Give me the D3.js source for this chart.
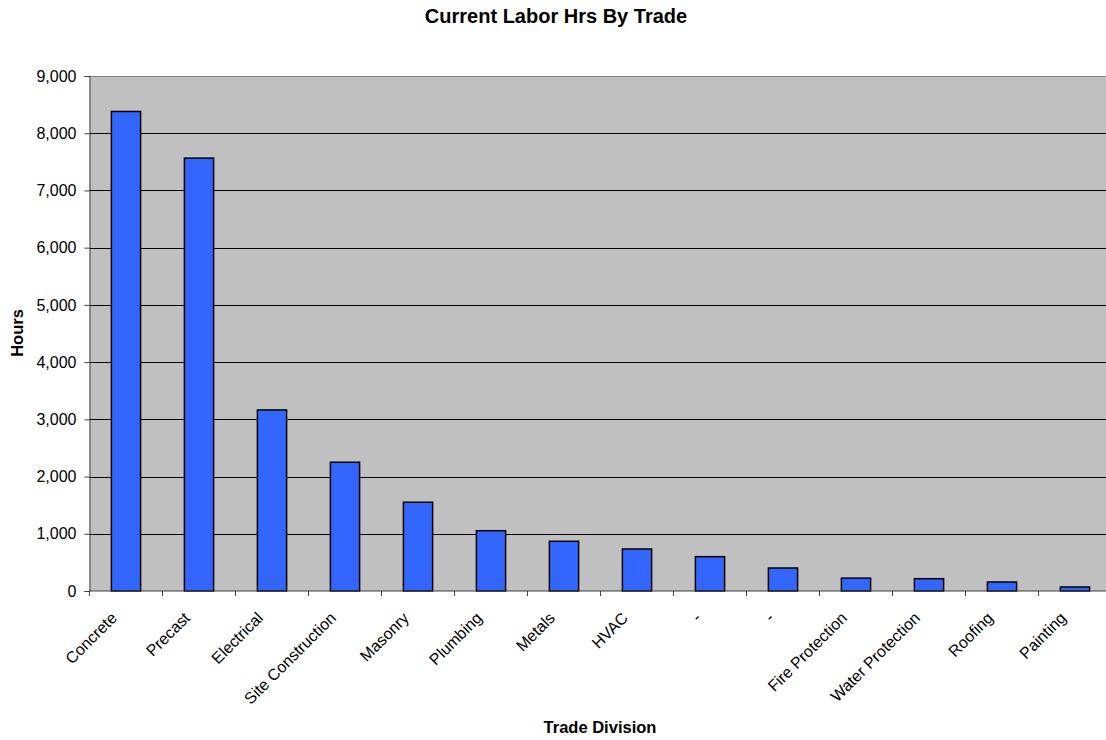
<!DOCTYPE html>
<html>
<head>
<meta charset="utf-8">
<script src="https://cdn.jsdelivr.net/npm/d3@7"></script>
<style>
  html, body { margin: 0; padding: 0; background: #fff; }
  svg { display: block; font-family: Arial, "Liberation Sans", sans-serif; }
</style>
</head>
<body>
<svg id="chart" width="1106" height="740"></svg>
<script>
// data
var trades = ['Concrete', 'Precast', 'Electrical', 'Site Construction', 'Masonry', 'Plumbing',
  'Metals', 'HVAC', '-', '-', 'Fire Protection', 'Water Protection', 'Roofing', 'Painting'];
var hours = [8380, 7565, 3164, 2250, 1551, 1054, 869, 734, 600, 402, 225, 215, 157, 70];
var yTicks = [0, 1000, 2000, 3000, 4000, 5000, 6000, 7000, 8000, 9000];

var svg = d3.select('#chart');
var plotLeft = 89.5, plotTop = 76, plotBottom = 591, step = 73;
var plotRight = plotLeft + step * trades.length;

var xScale = d3.scaleBand()
  .domain(d3.range(trades.length))
  .range([plotLeft, plotRight])
  .paddingInner(0.6)
  .paddingOuter(0.3);

var yScale = d3.scaleLinear().domain([0, 9000]).range([plotBottom, plotTop]);

// plot area
svg.append('rect')
  .attr('x', plotLeft).attr('y', plotTop)
  .attr('width', plotRight - plotLeft).attr('height', plotBottom - plotTop)
  .attr('fill', '#c0c0c0');

// gridlines
svg.append('g').selectAll('line')
  .data(yTicks.filter((d) => d > 0 && d < 9000))
  .enter().append('line')
  .attr('x1', plotLeft).attr('x2', plotRight)
  .attr('y1', (d) => Math.round(yScale(d)) + 0.5)
  .attr('y2', (d) => Math.round(yScale(d)) + 0.5)
  .attr('stroke', '#000').attr('stroke-width', 1);

svg.append('line')
  .attr('x1', plotLeft).attr('x2', plotRight)
  .attr('y1', plotTop + 0.5).attr('y2', plotTop + 0.5)
  .attr('stroke', '#808080');

// bars
svg.append('g').selectAll('rect')
  .data(hours)
  .enter().append('rect')
  .attr('x', (d, i) => xScale(i))
  .attr('y', (d) => yScale(d))
  .attr('width', xScale.bandwidth())
  .attr('height', (d) => plotBottom - yScale(d))
  .attr('fill', '#3366ff')
  .attr('stroke', '#000')
  .attr('stroke-width', 1.5);

// y axis
var yAxis = svg.append('g')
  .attr('transform', 'translate(' + plotLeft + ',0)')
  .call(d3.axisLeft(yScale).tickValues(yTicks).tickFormat(d3.format(',')).tickSize(5).tickPadding(8));
yAxis.select('.domain').attr('stroke', '#404040');
yAxis.selectAll('.tick line').attr('stroke', '#404040');
yAxis.selectAll('text').attr('font-size', 16).attr('fill', '#000')
  .attr('font-family', 'Arial, "Liberation Sans", sans-serif');

// x axis: ticks sit between categories
var xAxis = svg.append('g');
xAxis.append('line')
  .attr('x1', plotLeft).attr('x2', plotRight)
  .attr('y1', plotBottom).attr('y2', plotBottom)
  .attr('stroke', '#404040');
xAxis.selectAll('line.tk')
  .data(d3.range(trades.length + 1))
  .enter().append('line')
  .attr('class', 'tk')
  .attr('x1', (d) => plotLeft + d * xScale.step())
  .attr('x2', (d) => plotLeft + d * xScale.step())
  .attr('y1', plotBottom).attr('y2', plotBottom + 5)
  .attr('stroke', '#404040');

xAxis.selectAll('text')
  .data(trades)
  .enter().append('text')
  .attr('transform', (d, i) => 'translate(' + (xScale(i) + xScale.bandwidth() / 2 - 8) + ',' + (plotBottom + 28) + ') rotate(-45)')
  .attr('text-anchor', 'end')
  .attr('font-size', 16)
  .text((d) => d);

// titles
svg.append('text')
  .attr('x', 556).attr('y', 23)
  .attr('text-anchor', 'middle')
  .attr('font-size', 20).attr('font-weight', 'bold')
  .text('Current Labor Hrs By Trade');

svg.append('text')
  .attr('x', 600).attr('y', 733)
  .attr('text-anchor', 'middle')
  .attr('font-size', 16.5).attr('font-weight', 'bold')
  .text('Trade Division');

svg.append('text')
  .attr('transform', 'translate(23,333) rotate(-90)')
  .attr('text-anchor', 'middle')
  .attr('font-size', 16.5).attr('font-weight', 'bold')
  .text('Hours');
</script>
</body>
</html>
